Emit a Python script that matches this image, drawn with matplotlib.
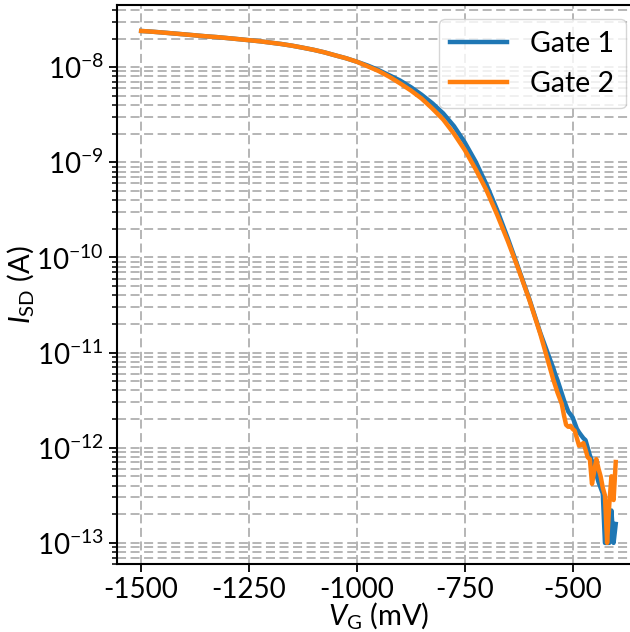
import numpy as np
import matplotlib
matplotlib.use('Agg')
import matplotlib.pyplot as plt

plt.rcParams['font.family'] = ['Lato', 'DejaVu Sans']
plt.rcParams['mathtext.fontset'] = 'custom'
plt.rcParams['mathtext.rm'] = 'Lato'
plt.rcParams['mathtext.it'] = 'Lato:italic'
plt.rcParams['axes.unicode_minus'] = False

# gate voltage (mV)
vg_smooth = [-1500, -1475, -1450, -1425, -1400, -1375, -1350, -1325, -1300, -1275,
             -1250, -1225, -1200, -1175, -1150, -1125, -1100, -1075, -1050, -1025,
             -1000, -975, -950, -925, -900, -875, -850, -825, -800, -775,
             -750, -725, -700, -675, -650, -625, -600, -575, -550]
vg_tail = [-545, -540, -535, -530, -525, -520, -515, -510, -505, -500,
           -495, -490, -485, -480, -475, -470, -465, -460, -455, -450,
           -445, -440, -435, -430, -425, -420, -415, -410, -405, -400]
vg = vg_smooth + vg_tail

# source-drain current (A)
gate1 = [2.40e-8, 2.36e-8, 2.31e-8, 2.26e-8, 2.21e-8, 2.16e-8, 2.11e-8, 2.07e-8, 2.02e-8, 1.97e-8,
         1.92e-8, 1.87e-8, 1.81e-8, 1.75e-8, 1.68e-8, 1.60e-8, 1.52e-8, 1.43e-8, 1.33e-8, 1.24e-8,
         1.14e-8, 1.04e-8, 9.33e-9, 8.22e-9, 7.24e-9, 6.17e-9, 5.13e-9, 4.17e-9, 3.27e-9, 2.40e-9,
         1.62e-9, 1.02e-9, 5.89e-10, 3.16e-10, 1.58e-10, 7.59e-11, 3.63e-11, 1.62e-11, 7.94e-12,
         6.92e-12, 5.89e-12, 5.13e-12, 4.37e-12, 3.72e-12, 3.16e-12, 2.75e-12, 2.40e-12, 2.24e-12, 2.09e-12,
         1.82e-12, 1.58e-12, 1.45e-12, 1.35e-12, 1.26e-12, 1.20e-12, 1.00e-12, 8.32e-13, 7.24e-13, 6.31e-13,
         5.25e-13, 4.37e-13, 3.80e-13, 3.31e-13, 1.00e-13, 1.00e-13, 1.00e-13, 2.19e-13, 1.00e-13, 1.58e-13]
gate2 = [2.40e-8, 2.36e-8, 2.31e-8, 2.26e-8, 2.21e-8, 2.16e-8, 2.11e-8, 2.07e-8, 2.02e-8, 1.97e-8,
         1.92e-8, 1.87e-8, 1.81e-8, 1.75e-8, 1.68e-8, 1.60e-8, 1.52e-8, 1.43e-8, 1.33e-8, 1.24e-8,
         1.14e-8, 1.02e-8, 9.12e-9, 7.94e-9, 6.76e-9, 5.69e-9, 4.68e-9, 3.67e-9, 2.82e-9, 2.00e-9,
         1.35e-9, 8.51e-10, 5.13e-10, 2.82e-10, 1.48e-10, 7.41e-11, 3.55e-11, 1.58e-11, 6.31e-12,
         5.25e-12, 4.47e-12, 3.80e-12, 3.31e-12, 2.88e-12, 2.19e-12, 1.74e-12, 1.66e-12, 1.70e-12, 1.58e-12,
         1.51e-12, 1.26e-12, 1.05e-12, 1.07e-12, 1.12e-12, 9.55e-13, 7.94e-13, 7.59e-13, 4.17e-13, 5.62e-13,
         7.59e-13, 6.03e-13, 5.01e-13, 3.80e-13, 3.16e-13, 1.00e-13, 2.51e-13, 5.01e-13, 2.82e-13, 7.08e-13]

xticks = [-1500, -1250, -1000, -750, -500]

fig = plt.figure(figsize=(6.3, 6.32), dpi=100)
ax = fig.add_axes([0.1857, 0.1076, 0.83, 0.8845])

ax.plot(vg, gate1, color='#1f77b4', lw=3.2, label='Gate 1')
ax.plot(vg, gate2, color='#ff7f0e', lw=3.2, label='Gate 2')

ax.set_yscale('log')
ax.set_xlim(-1556, -344)
ax.set_ylim(6e-14, 4.5e-8)
ax.set_xticks(xticks)
ax.set_xticklabels([str(t) for t in xticks])

ax.grid(True, which='both', axis='y', color='#b0b0b0', ls=(0, (5, 2.5)), lw=1.3)
ax.grid(True, which='major', axis='x', color='#b0b0b0', ls=(0, (5, 2.5)), lw=1.3)

for s in ax.spines.values():
    s.set_linewidth(1.5)
ax.tick_params(which='major', labelsize=20, length=6, width=1.3)
ax.tick_params(which='minor', length=3.5, width=1.1)

ax.set_xlabel(r'$V_{\mathrm{G}}$ (mV)', fontsize=21, labelpad=-2)
ax.set_ylabel(r'$I_{\mathrm{SD}}$ (A)', fontsize=21, labelpad=0)
ax.legend(fontsize=20.5, loc='upper right')

fig.savefig('out.png', dpi=100)
